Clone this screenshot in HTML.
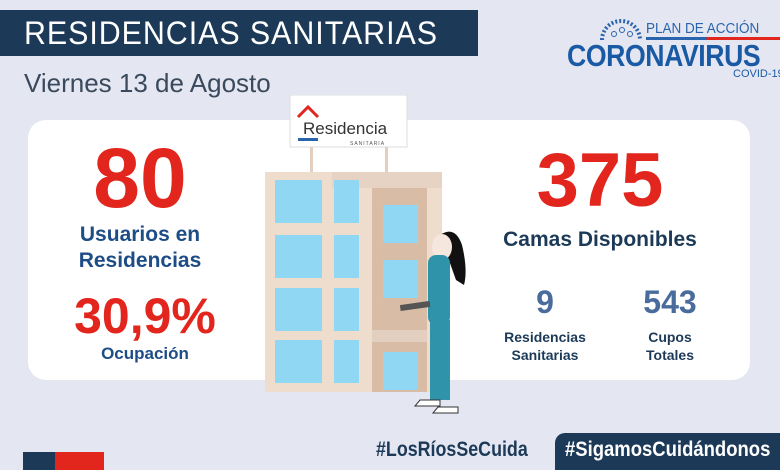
<!DOCTYPE html>
<html><head><meta charset="utf-8"><style>
body{margin:0;width:780px;height:470px;overflow:hidden;background:#e4e7f2;font-family:"Liberation Sans",sans-serif;position:relative}
.a{position:absolute;white-space:nowrap}
.red{color:#e2261d;font-weight:bold}
.blue{color:#1d4c86;font-weight:bold}
</style></head><body>
<div class="a" style="left:0;top:10px;width:478px;height:46px;background:#1c3a57"></div>
<div class="a" style="left:24px;top:12px;color:#fff;font-size:32px;letter-spacing:1px;line-height:42px;transform:scaleX(0.95);transform-origin:left">RESIDENCIAS SANITARIAS</div>
<div class="a" style="left:24px;top:68px;color:#3a4a5c;font-size:26px">Viernes 13 de Agosto</div>
<!-- logo -->
<svg class="a" style="left:598px;top:12px" width="46" height="30"><path d="M4 28 A19 19 0 0 1 42 28" fill="none" stroke="#2a64ad" stroke-width="4" stroke-dasharray="2 2"/><circle cx="16" cy="22" r="2.5" fill="none" stroke="#2a64ad"/><circle cx="24" cy="18" r="2.5" fill="none" stroke="#2a64ad"/><circle cx="32" cy="22" r="2.5" fill="none" stroke="#2a64ad"/></svg>
<div class="a" style="left:646px;top:20px;color:#2a64ad;font-size:15px;transform:scaleX(0.9);transform-origin:left">PLAN DE ACCIÓN</div>
<div class="a" style="left:646px;top:37px;width:134px;height:3px;background:linear-gradient(90deg,#2a64ad 45%,#e2261d 45%)"></div>
<div class="a" style="left:567px;top:38px;color:#1a5aa5;font-size:31px;font-weight:bold;letter-spacing:-0.5px;transform:scaleX(0.86);transform-origin:left">CORONAVIRUS</div>
<div class="a" style="left:733px;top:68px;color:#1a5aa5;font-size:11px">COVID-19</div>
<!-- card -->
<div class="a" style="left:28px;top:120px;width:722px;height:260px;background:#fff;border-radius:18px"></div>
<div class="a red" style="left:30px;top:130px;width:220px;text-align:center;font-size:84px;line-height:96px">80</div>
<div class="a blue" style="left:30px;top:222px;width:220px;text-align:center;font-size:21px;line-height:26px">Usuarios en<br>Residencias</div>
<div class="a red" style="left:30px;top:286px;width:230px;text-align:center;font-size:50px;line-height:60px">30,9%</div>
<div class="a blue" style="left:30px;top:344px;width:230px;text-align:center;font-size:17px">Ocupación</div>
<div class="a red" style="left:490px;top:138px;width:220px;text-align:center;font-size:76px;line-height:86px">375</div>
<div class="a" style="left:490px;top:228px;width:220px;text-align:center;font-size:21px;font-weight:bold;color:#1c3a57">Camas Disponibles</div>
<div class="a" style="left:490px;top:284px;width:110px;text-align:center;font-size:32px;font-weight:bold;color:#4a6c9c">9</div>
<div class="a" style="left:490px;top:328px;width:110px;text-align:center;font-size:14px;font-weight:bold;color:#1c3a57;line-height:18px">Residencias<br>Sanitarias</div>
<div class="a" style="left:615px;top:284px;width:110px;text-align:center;font-size:32px;font-weight:bold;color:#4a6c9c">543</div>
<div class="a" style="left:615px;top:328px;width:110px;text-align:center;font-size:14px;font-weight:bold;color:#1c3a57;line-height:18px">Cupos<br>Totales</div>
<!-- building -->
<svg class="a" style="left:260px;top:95px" width="240" height="330">
<rect x="30" y="0" width="117" height="52" fill="#fff" stroke="#ddd"/>
<path d="M38 22 L48 12 L58 22" fill="none" stroke="#e2261d" stroke-width="3"/>
<text x="43" y="39" font-family="Liberation Sans" font-size="17" fill="#333">Residencia</text>
<rect x="38" y="43" width="20" height="3" fill="#2a64ad"/>
<text x="90" y="50" font-family="Liberation Sans" font-size="5" fill="#555" letter-spacing="1">SANITARIA</text>
<rect x="50" y="52" width="3" height="25" fill="#e3cfc0"/><rect x="125" y="52" width="3" height="25" fill="#e3cfc0"/>
<rect x="5" y="77" width="177" height="220" fill="#eedccd"/>
<rect x="72" y="77" width="110" height="16" fill="#e7d3c3"/>
<rect x="112" y="93" width="55" height="204" fill="#d9bca6"/>
<g fill="#8fd7f2">
<rect x="15" y="85" width="47" height="43"/><rect x="15" y="140" width="47" height="43"/><rect x="15" y="193" width="47" height="43"/><rect x="15" y="245" width="47" height="43"/>
<rect x="74" y="85" width="25" height="43"/><rect x="74" y="140" width="25" height="43"/><rect x="74" y="193" width="25" height="43"/><rect x="74" y="245" width="25" height="43"/>
<rect x="123" y="110" width="35" height="38"/><rect x="123" y="165" width="35" height="38"/><rect x="123" y="257" width="35" height="38"/>
</g>
<rect x="112" y="235" width="55" height="12" fill="#e3cfc0"/>
<!-- nurse -->
<path d="M180 140 q15 -10 22 10 q6 25 2 40 l-8 -5 z" fill="#111"/>
<ellipse cx="182" cy="152" rx="10" ry="13" fill="#f5e6de"/>
<rect x="168" y="160" width="22" height="70" rx="8" fill="#2f93a9"/>
<rect x="170" y="225" width="20" height="80" fill="#2f93a9"/>
<rect x="140" y="208" width="30" height="6" fill="#555" transform="rotate(-8 155 210)"/>
<path d="M160 305 h20 v6 h-25z M178 312 h20 v6 h-25z" fill="#fff" stroke="#333"/>
</svg>
<!-- footer -->
<div class="a" style="left:376px;top:438px;font-size:21px;color:#1c3a57;font-weight:bold;transform:scaleX(0.85);transform-origin:left">#LosRíosSeCuida</div>
<div class="a" style="left:555px;top:433px;width:225px;height:37px;background:#1c3a57;border-radius:10px 0 0 0"></div>
<div class="a" style="left:565px;top:438px;font-size:21px;color:#fff;font-weight:bold;transform:scaleX(0.88);transform-origin:left">#SigamosCuidándonos</div>
<div class="a" style="left:23px;top:452px;width:32px;height:18px;background:#1c3a57"></div>
<div class="a" style="left:55px;top:452px;width:49px;height:18px;background:#e2261d"></div>
</body></html>
